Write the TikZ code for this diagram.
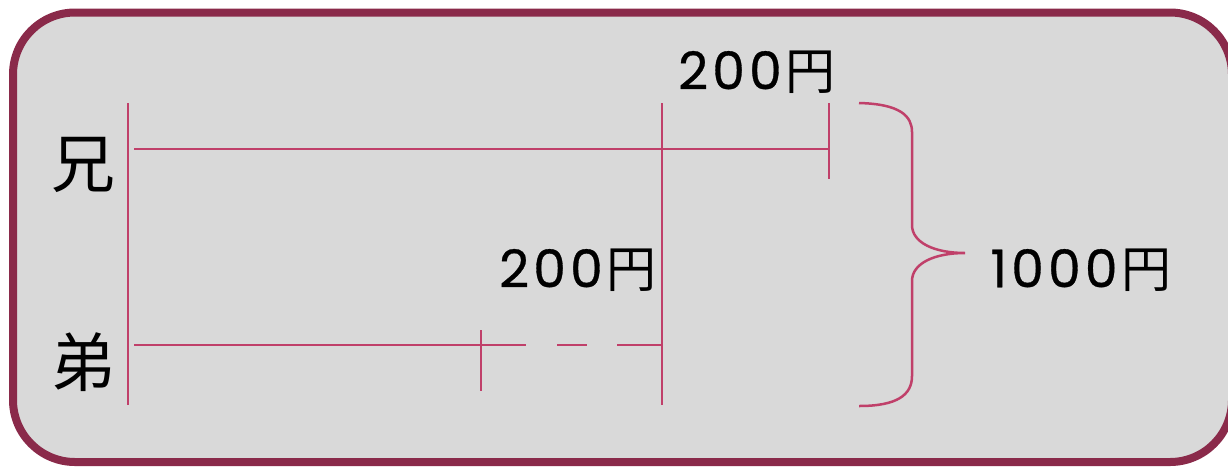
\documentclass[tikz,border=0pt]{standalone}
\usepackage{fontspec}
\setmainfont{Noto Sans CJK JP}
\newfontfamily\digitfont[LetterSpace=8,FakeBold=0.6]{Poppins}
\newcommand{\yen}[1]{{\digitfont\fontsize{52}{52}\selectfont #1}\kern4pt 円}
\definecolor{framecol}{HTML}{8A2A4A}
\definecolor{panel}{HTML}{D9D9D9}
\definecolor{barcol}{HTML}{C0406A}
\begin{document}
\begin{tikzpicture}[x=1pt,y=-1pt,
  bar/.style={draw=barcol,line width=2.5pt},
  who/.style={font=\fontsize{64}{64}\selectfont,inner sep=0pt},
  amount/.style={font=\fontsize{50}{50}\selectfont,inner sep=0pt}]
\useasboundingbox (0,0) rectangle (1228,467);
\clip (0,0) rectangle (1228,467);
% panel
\draw[framecol,fill=panel,line width=8pt,rounded corners=62pt] (13,12.5) rectangle (1232,462);
% names
\node[who] (ani) at (83,165) {兄};
\node[who] (oto) at (83,362) {弟};
% key points
\coordinate (L0) at (128,103);
\coordinate (L1) at (128,405);
\coordinate (M0) at (662,103);
\coordinate (M1) at (662,405);
\coordinate (A0) at (134,149);
\coordinate (A1) at (829,149);
\coordinate (T0) at (829,103);
\coordinate (T1) at (829,179);
\coordinate (B0) at (134,345);
\coordinate (B1) at (526,345);
\coordinate (D0) at (557,345);
\coordinate (D1) at (587,345);
\coordinate (E0) at (617,345);
\coordinate (E1) at (662,345);
\coordinate (K0) at (481,330);
\coordinate (K1) at (481,391);
% bars
\draw[bar] (L0) -- (L1);
\draw[bar] (M0) -- (M1);
\draw[bar] (A0) -- (A1);
\draw[bar] (T0) -- (T1);
\draw[bar] (B0) -- (B1);
\draw[bar] (D0) -- (D1);
\draw[bar] (E0) -- (E1);
\draw[bar] (K0) -- (K1);
% brace
\coordinate (br0) at (859,103);
\coordinate (tip) at (965,253);
\coordinate (br1) at (859,406);
\draw[bar] (br0) .. controls (900,104) and (912,116) .. (912,132) -- (912,225)
  .. controls (912,243) and (935,253) .. (tip)
  .. controls (935,253) and (912,263) .. (912,281) -- (912,376)
  .. controls (912,395) and (897,406) .. (br1);
% amounts
\node[amount] (up) at (757,72) {\yen{200}};
\node[amount] (mid) at (578,270) {\yen{200}};
\node[amount] (total) at (1081,270) {\yen{1000}};
\end{tikzpicture}
\end{document}
